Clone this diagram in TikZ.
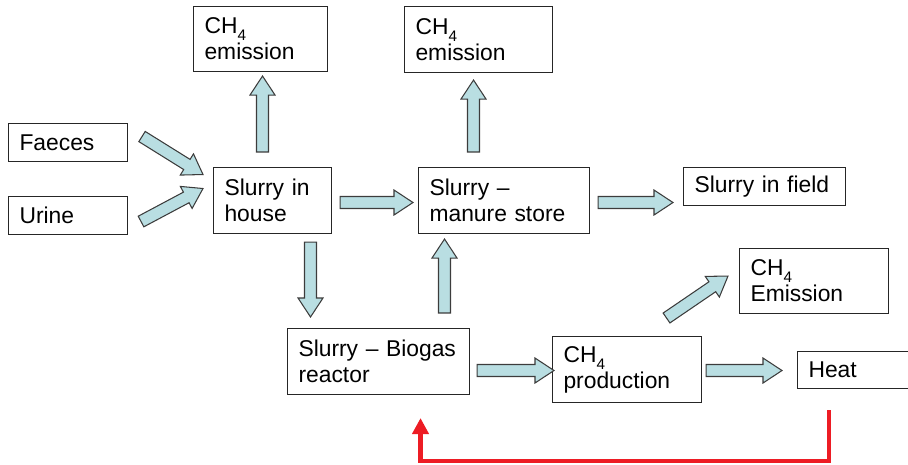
\documentclass[tikz,border=0pt]{standalone}
\usepackage{fontspec}
\setmainfont{Liberation Sans}
\usetikzlibrary{calc,arrows.meta}
\definecolor{arrowblue}{RGB}{185,222,226}
\definecolor{edgegray}{RGB}{60,60,60}
\definecolor{heatred}{RGB}{237,28,36}

\newcommand{\lowfour}{\raisebox{-4pt}{\fontsize{8.7}{9}\selectfont 4}}

% fat outlined arrow from #1 (tail) to #2 (tip)
\newcommand{\blockarr}[2]{%
  \coordinate (ba-p) at (#1);
  \coordinate (ba-q) at (#2);
  \coordinate (ba-n) at ($(ba-q)!0.38cm!(ba-p)$);
  \filldraw[block node] ($(ba-p)!0.12cm!90:(ba-q)$) -- ($(ba-n)!0.12cm!-90:(ba-p)$)
    -- ($(ba-n)!0.25cm!-90:(ba-p)$) -- (ba-q) -- ($(ba-n)!0.25cm!90:(ba-p)$)
    -- ($(ba-n)!0.12cm!90:(ba-p)$) -- ($(ba-p)!0.12cm!-90:(ba-q)$) -- cycle;}

\begin{document}
\begin{tikzpicture}[x=0.02cm, y=-0.02cm,
    box node/.style={draw=black!85, line width=0.6pt, anchor=north west, align=left,
      inner xsep=0.22cm, inner ysep=0pt, font=\fontsize{13}{14.8}\selectfont},
    block node/.style={fill=arrowblue, draw=edgegray, line width=0.6pt, line join=miter},
    feedback/.style={draw=heatred, line width=2.6pt, -{Triangle[length=0.32cm,width=0.32cm]}}]

    \path[use as bounding box, clip] (0,0) rectangle (908,465);

    \node[box node, text width=2.24cm, minimum height=1.30cm] (em1) at (193,6) {CH\lowfour\\emission};
    \node[box node, text width=2.52cm, minimum height=1.32cm] (em2) at (404,6) {CH\lowfour\\emission};
    \node[box node, text width=1.94cm, minimum height=0.76cm] (faeces) at (8,123) {Faeces};
    \node[box node, text width=1.94cm, minimum height=0.76cm] (urine) at (8,196) {Urine};
    \node[box node, text width=1.92cm, minimum height=1.32cm] (house) at (213,167) {Slurry in\\house};
    \node[box node, text width=2.98cm, minimum height=1.32cm] (store) at (418,167) {Slurry –\\manure store};
    \node[box node, text width=2.80cm, minimum height=0.76cm] (field) at (683,167) {Slurry in field};
    \node[box node, text width=2.54cm, minimum height=1.30cm] (em3) at (739,248) {CH\lowfour\\Emission};
    \node[box node, text width=3.20cm, minimum height=1.32cm] (bio) at (287,328) {Slurry – Biogas\\reactor};
    \node[box node, text width=2.54cm, minimum height=1.32cm] (prod) at (552,336) {CH\lowfour\\production};
    \node[box node, text width=2.06cm, minimum height=0.74cm] (heat) at (797,351) {Heat};

    \blockarr{$(faeces.east)+(14,-6)$}{$(house.west)+(-10,-26)$}
    \blockarr{$(urine.east)+(13,6)$}{$(house.west)+(-10,-12)$}
    \blockarr{$(house.north)+(-10,-15)$}{$(em1.south)+(2,4)$}
    \blockarr{$(house.east)+(8,2)$}{$(store.west)+(-5,2)$}
    \blockarr{$(store.north)+(-30.5,-15)$}{$(em2.south)+(-5,7)$}
    \blockarr{$(store.east)+(8,2)$}{$(field.west)+(-10,16)$}
    \blockarr{$(house.south)+(38,8)$}{$(bio.north)+(-68,-11)$}
    \blockarr{$(bio.north)+(66,-15)$}{$(store.south)+(-59.5,5)$}
    \blockarr{$(bio.east)+(7,9)$}{$(prod.west)+(2,1)$}
    \blockarr{$(prod.east)+(4,1)$}{$(heat.west)+(-15,0.5)$}
    \blockarr{$(prod.north)+(39.5,-18)$}{$(em3.south west)+(-11,-38)$}

    \draw[feedback] ($(heat.south west)+(32,21)$) -- ++(0,51) -| ($(bio.south)+(42,23)$);
\end{tikzpicture}
\end{document}
